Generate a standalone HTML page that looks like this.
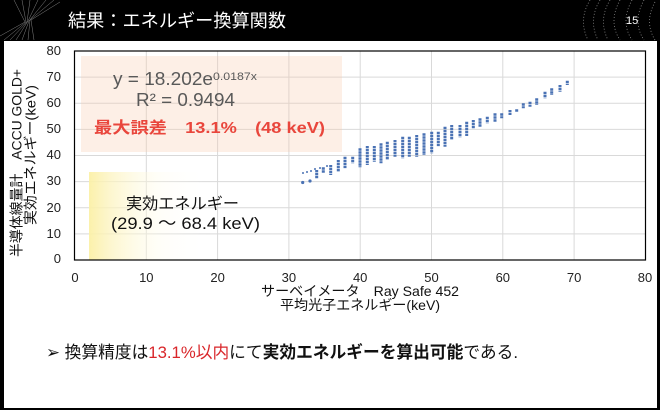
<!DOCTYPE html>
<html><head><meta charset="utf-8"><style>
html,body{margin:0;padding:0;background:#000;}
svg{display:block;}
text{font-family:"Liberation Sans","Noto Sans CJK JP",sans-serif;}
</style></head><body>
<svg width="660" height="410" viewBox="0 0 660 410" xmlns="http://www.w3.org/2000/svg">
<defs>
<linearGradient id="yg" x1="0" y1="0" x2="1" y2="0">
<stop offset="0" stop-color="#fbf0a6" stop-opacity="0.95"/>
<stop offset="0.12" stop-color="#fcf3bd" stop-opacity="0.75"/>
<stop offset="0.4" stop-color="#fffbe6" stop-opacity="0.3"/>
<stop offset="0.7" stop-color="#ffffff" stop-opacity="0"/>
</linearGradient>
</defs>
<!-- frame -->
<rect x="0" y="0" width="660" height="410" fill="#000"/>
<rect x="4" y="41" width="653" height="367" fill="#fff"/>
<!-- header decorations -->
<g stroke="#bbb" stroke-width="0.5" fill="none" opacity="0.7">
<path d="M22 0 L26 22 L4 40 M30 0 L27 22 L10 40 M38 0 L28 21 L16 40 M46 0 L29 21 L22 40 M54 0 L30 20 L28 40 M60 2 L31 20 L34 40 M14 0 L25 22 L0 36"/>
</g>
<g stroke="#aaa" stroke-width="0.8" fill="none" stroke-dasharray="1 2" opacity="0.8">
<path d="M590 0 Q578 20 588 40"/>
<path d="M600 0 Q588 20 598 40"/>
<path d="M610 0 Q598 20 608 40"/>
<path d="M620 0 Q608 22 620 40"/>
<path d="M632 0 Q620 22 632 40"/>
<path d="M644 0 Q632 22 644 40"/>
<path d="M655 2 Q644 22 655 40"/>
</g>
<text x="68" y="27" font-size="18" fill="#fff" textLength="218" lengthAdjust="spacingAndGlyphs">結果：エネルギー換算関数</text>
<text x="626" y="24" font-size="11" fill="#fff">15</text>

<!-- gridlines -->
<g stroke="#d9d9d9" stroke-width="1">
<path d="M146.3 51V260 M217.6 51V260 M288.9 51V260 M360.2 51V260 M431.5 51V260 M502.8 51V260 M574.1 51V260"/>
<path d="M75 233.9H645 M75 207.8H645 M75 181.6H645 M75 155.5H645 M75 129.4H645 M75 103.3H645 M75 77.1H645"/>
</g>
<!-- highlight boxes -->
<rect x="81" y="56" width="261" height="96" fill="#f7caac" fill-opacity="0.3"/>
<rect x="89" y="172" width="171" height="88" fill="url(#yg)"/>
<!-- plot border -->
<rect x="74.5" y="51" width="571" height="209" fill="none" stroke="#000" stroke-width="1.2"/>

<!-- data -->
<g stroke="#4a72b4" stroke-width="3" stroke-dasharray="2.4 0.6" fill="none">
<path d="M316.7 170V178.3 M323.3 167.3V172.7 M330.7 165V175 M338.3 160V171.7 M345 156.7V168.3 M352.7 156.7V163.3 M360 148.3V167.3 M367.3 146V165 M374.3 146V161.7 M381 143.3V163.3 M387.3 141.7V160 M395 140V156.7 M402.7 136.7V158.3 M409.3 136.7V156.7 M416.7 135V156.7 M424 133.3V155 M431.7 131.7V153.3 M438.3 131.7V146.7 M445 126.7V146.7 M451.7 125V140 M460 125V137.3 M466.7 121.7V136 M473.3 120V128.3 M480 118.3V126.7 M487.3 116.7V123.3 M495 113.3V121.7 M501.7 113.3V118.3 M510 110V115 M516.7 109.3V111.7 M523.3 103.3V108.3 M530 101.7V106.7 M536.7 98.3V105 M545 91.7V98.3 M551.7 88.3V95 M560 85V91.7 M567.3 80.7V85"/>
</g>
<g fill="#4a72b4">
<circle cx="302.7" cy="182.5" r="1.6"/><circle cx="310" cy="181" r="1.6"/>
<circle cx="303" cy="173" r="1"/><circle cx="307" cy="172" r="1"/><circle cx="311" cy="171" r="1"/><circle cx="315" cy="169" r="1"/>
<circle cx="320" cy="168" r="1"/><circle cx="327" cy="166" r="1"/>
</g>

<!-- y ticks -->
<g font-size="13" fill="#222" text-anchor="end">
<text x="61" y="55">80</text>
<text x="61" y="81">70</text>
<text x="61" y="107">60</text>
<text x="61" y="133">50</text>
<text x="61" y="159">40</text>
<text x="61" y="185">30</text>
<text x="61" y="212">20</text>
<text x="61" y="238">10</text>
<text x="61" y="263">0</text>
</g>
<!-- x ticks -->
<g font-size="13" fill="#222" text-anchor="middle">
<text x="75" y="282">0</text>
<text x="146.3" y="282">10</text>
<text x="217.6" y="282">20</text>
<text x="288.9" y="282">30</text>
<text x="360.2" y="282">40</text>
<text x="431.5" y="282">50</text>
<text x="502.8" y="282">60</text>
<text x="574.1" y="282">70</text>
<text x="645" y="282">80</text>
</g>
<!-- axis titles -->
<text x="360" y="296" font-size="14" fill="#111" text-anchor="middle" textLength="198" lengthAdjust="spacingAndGlyphs">サーベイメータ　Ray Safe 452</text>
<text x="360" y="310" font-size="14" fill="#111" text-anchor="middle" textLength="160" lengthAdjust="spacingAndGlyphs">平均光子エネルギー(keV)</text>
<text transform="translate(21.5,163) rotate(-90)" font-size="14" fill="#111" text-anchor="middle" textLength="188" lengthAdjust="spacingAndGlyphs">半導体線量計　ACCU GOLD+</text>
<text transform="translate(35.5,155) rotate(-90)" font-size="14" fill="#111" text-anchor="middle" textLength="140" lengthAdjust="spacingAndGlyphs">実効エネルギー(keV)</text>

<!-- annotations -->
<text x="113" y="85" font-size="18" fill="#595959" textLength="100" lengthAdjust="spacingAndGlyphs">y = 18.202e</text>
<text x="213" y="80" font-size="11" fill="#595959" textLength="44" lengthAdjust="spacingAndGlyphs">0.0187x</text>
<text x="136" y="106" font-size="18" fill="#595959" textLength="99" lengthAdjust="spacingAndGlyphs">R² = 0.9494</text>
<text x="94" y="133" font-size="16" font-weight="bold" fill="#e9463c" textLength="231" lengthAdjust="spacingAndGlyphs">最大誤差　13.1%　(48 keV)</text>
<text x="126" y="209" font-size="16" fill="#111" textLength="113" lengthAdjust="spacingAndGlyphs">実効エネルギー</text>
<text x="111" y="229" font-size="17" fill="#111" textLength="149" lengthAdjust="spacingAndGlyphs">(29.9 ～ 68.4 keV)</text>

<!-- bullet -->
<text x="46" y="358" font-size="17" fill="#111" textLength="472" lengthAdjust="spacingAndGlyphs"><tspan font-family="'DejaVu Sans',sans-serif" font-size="17">➢</tspan> 換算精度は<tspan fill="#d9262a">13.1%以内</tspan>にて<tspan font-weight="bold">実効エネルギーを算出可能</tspan>である.</text>
</svg>
</body></html>
